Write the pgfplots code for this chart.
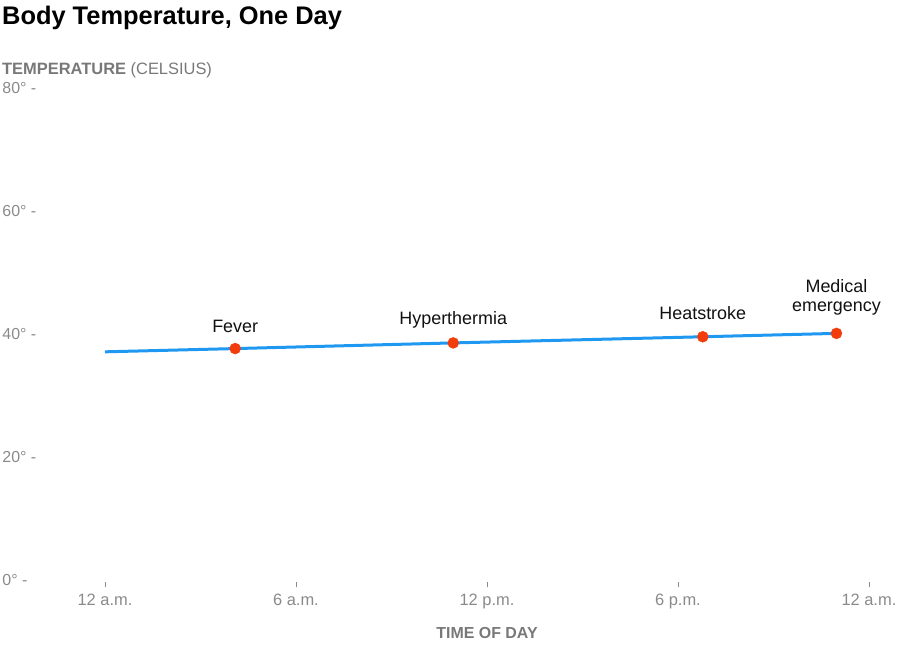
\documentclass[border=0pt]{standalone}
\usepackage{pgfplots}
\pgfplotsset{compat=1.18}
\usepackage{fontspec}
\setmainfont{Liberation Sans}
\definecolor{lineblue}{RGB}{30,152,240}
\definecolor{dotred}{RGB}{242,60,12}
\definecolor{tickgray}{RGB}{138,138,138}
\definecolor{labgray}{RGB}{120,120,120}
\begin{document}
\begin{tikzpicture}
\begin{axis}[
  at={(0,0)}, anchor=origin,
  x=31.83bp, y=6.15bp,
  xmin=-1.5, xmax=25, ymin=-1.2, ymax=80,
  clip=false,
  axis line style={draw=none},
  xtick pos=bottom, ytick pos=left,
  xtick={0,6,12,18,24},
  xticklabels={12 a.m.,6 a.m.,12 p.m.,6 p.m.,12 a.m.},
  ytick={0,20,40,60,80},
  yticklabels={0° -,20° -,40° -,60° -,80° -},
  tick align=inside,
  major tick length=5bp,
  xtick style={draw=tickgray, line width=0.8bp},
  ytick style={draw=none},
  xticklabel style={font=\fontsize{16.5}{18}\selectfont, text=tickgray, yshift=-3bp},
  yticklabel style={font=\fontsize{16}{18}\selectfont, text=tickgray, anchor=west, inner sep=0pt, xshift=-55bp},
  /pgf/number format/assume math mode=true,
]
\addplot[lineblue, line width=3bp, no marks] coordinates {
  (0,37.1) (4.09,37.63) (10.94,38.55) (18.78,39.55) (22.98,40.1)
};
\addplot[only marks, mark=*, mark size=5.5bp, color=dotred, mark options={fill=dotred, draw=dotred}] coordinates {
  (4.09,37.63) (10.94,38.55) (18.78,39.55) (22.98,40.1)
};
\node[font=\fontsize{18}{20}\selectfont, text={rgb,255:red,17;green,17;blue,17}] at (axis cs:4.09,41.3) {Fever};
\node[font=\fontsize{18}{20}\selectfont, text={rgb,255:red,17;green,17;blue,17}] at (axis cs:10.94,42.3) {Hyperthermia};
\node[font=\fontsize{18}{20}\selectfont, text={rgb,255:red,17;green,17;blue,17}] at (axis cs:18.78,43.4) {Heatstroke};
\node[font=\fontsize{18}{19.5}\selectfont, align=center, text={rgb,255:red,17;green,17;blue,17}] at (axis cs:22.98,46.0) {Medical\\emergency};
\end{axis}
\node[anchor=base west, inner sep=0pt, font=\fontsize{25.5}{28}\selectfont\bfseries] at (-103bp,555bp) {Body Temperature, One Day};
\node[anchor=base west, inner sep=0pt, font=\fontsize{16.5}{18}\selectfont, text=labgray] at (-103bp,505bp) {\textbf{TEMPERATURE} (CELSIUS)};
\node[inner sep=0pt, font=\fontsize{16}{18}\selectfont\bfseries, text=labgray] at (382bp,-53bp) {TIME OF DAY};
\pgfresetboundingbox
\path[use as bounding box] (-105bp,-66bp) rectangle (795bp,580bp);
\end{tikzpicture}
\end{document}
